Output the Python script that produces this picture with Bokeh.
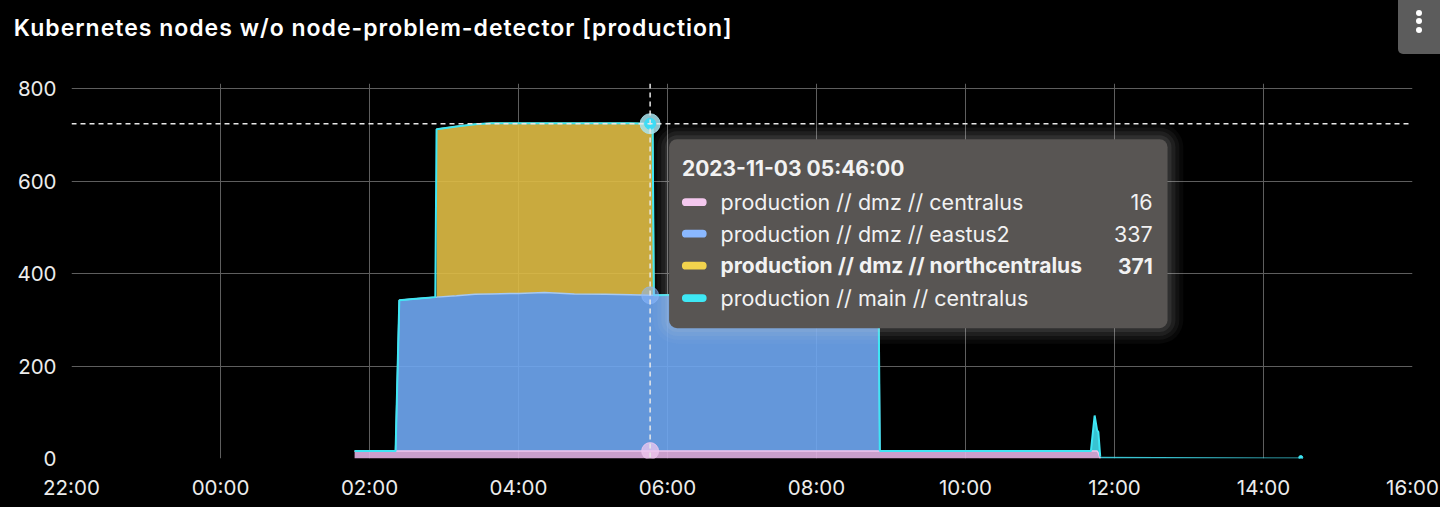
import numpy as np
import pandas as pd
from bokeh.plotting import figure
from bokeh.layouts import column
from bokeh.models import (ColumnDataSource, Span, Label, BoxAnnotation, FixedTicker,
                          DatetimeTickFormatter, Range1d, Div)
from bokeh.embed import file_html
from bokeh.resources import INLINE

# ---------------- data ----------------
title_text = "Kubernetes nodes w/o node-problem-detector [production]"
series_names = ["production // dmz // centralus", "production // dmz // eastus2",
                "production // dmz // northcentralus", "production // main // centralus"]

times = ["2023-11-03 01:48:00", "2023-11-03 02:21:00", "2023-11-03 02:24:00", "2023-11-03 02:35:00",
         "2023-11-03 02:53:00", "2023-11-03 02:54:00", "2023-11-03 03:10:00", "2023-11-03 03:25:00",
         "2023-11-03 03:38:00", "2023-11-03 04:00:00", "2023-11-03 04:21:00", "2023-11-03 04:45:00",
         "2023-11-03 05:10:00", "2023-11-03 05:30:00", "2023-11-03 05:46:00", "2023-11-03 05:48:00",
         "2023-11-03 05:49:00", "2023-11-03 06:20:00", "2023-11-03 07:00:00", "2023-11-03 07:40:00",
         "2023-11-03 08:20:00", "2023-11-03 08:50:00", "2023-11-03 08:51:00", "2023-11-03 09:30:00",
         "2023-11-03 10:15:00", "2023-11-03 11:00:00", "2023-11-03 11:41:00", "2023-11-03 11:44:00",
         "2023-11-03 11:46:00", "2023-11-03 11:47:00", "2023-11-03 11:48:30", "2023-11-03 12:00:00",
         "2023-11-03 14:30:00"]
N = None
dmz_centralus = [16, 16, 16, 16, 16, 16, 16, 16, 16, 16, 16, 16, 16, 16, 16, 16,
                 16, 16, 16, 16, 16, 16, 16, 16, 16, 16, 16, 16, 16, 12, 0, N, N]
dmz_eastus2 = [N, 0, 326, 329, 333, 333, 336, 339, 340, 341, 343, 340, 339, 338, 337, 337,
               337, 338, 339, 338, 338, 338, 0, N, N, N, N, N, N, N, N, N, N]
dmz_northcentralus = [N, N, N, N, N, 363, 366, 368, 369, 368, 366, 369, 370, 371, 371, 371,
                      0, N, N, N, N, N, N, N, N, N, N, N, N, N, N, N, N]
main_centralus = [0, 0, 0, 0, 0, 0, 0, 0, 0, 0, 0, 0, 0, 0, 0, 0,
                  0, 0, 0, 0, 0, 0, 0, 0, 0, 0, 0, 77, 45, 45, 4, N, 2]

x_ticks = ["2023-11-02 22:00:00", "2023-11-03 00:00:00", "2023-11-03 02:00:00", "2023-11-03 04:00:00",
           "2023-11-03 06:00:00", "2023-11-03 08:00:00", "2023-11-03 10:00:00", "2023-11-03 12:00:00",
           "2023-11-03 14:00:00", "2023-11-03 16:00:00"]
y_ticks = [0, 200, 400, 600, 800]
hover_time = "2023-11-03 05:46:00"
tooltip_header = "2023-11-03 05:46:00"

fill_colors = ["#e0b0e2", "#6fa7f2", "#dfbc45", "#3fd8e8"]
line_colors = ["#f0c6ee", "#a6c9f4", "#e6c64e", "#3ee6f4"]
swatch_colors = ["#f4c8ee", "#8ab8ff", "#f2d34d", "#3ee8f5"]


def to_ms(lst):
    return (pd.to_datetime(lst, format="ISO8601").values
            .astype("datetime64[ms]").astype("int64").astype(float))


t = to_ms(times)
xt = to_ms(x_ticks)
t0, t1 = xt[0], xt[-1]
series = [np.array([np.nan if v is None else v for v in s], dtype=float)
          for s in (dmz_centralus, dmz_eastus2, dmz_northcentralus, main_centralus)]

# ---------------- layout geometry ----------------
W, H = 1440, 507
HH = 60                       # header height
MH = H - HH                   # main figure height
ML, MR, MT, MB = 71, 28, 23, 49
YMAX = 811
SX, SY = W / 1456, H / 523     # reference picture -> page scale
FONT = "Inter"
BLACK = {"background-color": "#000000"}


def fx(X):
    return X * SX


def fy(Y):
    return Y * SY


# ---------------- header (title + menu button) ----------------
dots = "".join(
    f'<div style="position:absolute;left:{fx(1434.3) - fx(1413) - 3:.1f}px;top:{fy(d) - 3:.1f}px;'
    f'width:6px;height:6px;border-radius:3px;background:#ffffff;"></div>'
    for d in (20, 28.3, 36.7))
header_html = (
    f'<div style="position:relative;width:{W}px;height:{HH + 2}px;background:#000;overflow:hidden;">'
    f'<div style="position:absolute;left:{fx(14):.1f}px;top:{fy(29) - 14:.1f}px;'
    f'font-family:Inter;font-size:23px;font-weight:600;letter-spacing:1.0px;'
    f'line-height:28px;color:#ffffff;white-space:nowrap;">{title_text}</div>'
    f'<div style="position:absolute;left:{fx(1413):.1f}px;top:-6px;width:60px;'
    f'height:{fy(56) + 6:.1f}px;background:#5c5c5c;border-radius:5px;">{dots}</div>'
    f'</div>')
hdr = Div(text=header_html, width=W, height=HH, margin=0, styles=BLACK)

# ---------------- main figure ----------------
p = figure(width=W, height=MH, x_axis_type="datetime", output_backend="svg",
           toolbar_location=None, x_range=Range1d(t0, t1), y_range=Range1d(0, YMAX),
           background_fill_color="black", border_fill_color="black",
           outline_line_color=None, min_border_left=ML, min_border_right=MR,
           min_border_top=MT, min_border_bottom=MB, margin=0, styles=BLACK)

FL, FR = ML, W - MR
FT, FB = MT, MH - MB


def xd(X):
    return t0 + (fx(X) - FL) / (FR - FL) * (t1 - t0)


def yd(Y):
    return (FB - (fy(Y) - HH)) / (FB - FT) * YMAX


for ax in (p.xaxis[0], p.yaxis[0]):
    ax.axis_line_color = None
    ax.major_tick_line_color = None
    ax.minor_tick_line_color = None
    ax.major_label_text_color = "#ececec"
    ax.major_label_text_font = FONT
    ax.major_label_text_font_size = "20.5px"
p.xaxis.ticker = FixedTicker(ticks=list(xt))
fmt = "%H:%M"
p.xaxis.formatter = DatetimeTickFormatter(hours=fmt, hourmin=fmt, days=fmt, minutes=fmt,
                                          minsec=fmt, months=fmt, context=None)
p.xaxis.major_label_standoff = 10
p.yaxis.ticker = FixedTicker(ticks=y_ticks)
p.yaxis.major_label_standoff = 9
p.xgrid.grid_line_color = "#5e5e5e"
p.ygrid.grid_line_color = "#5e5e5e"
p.xgrid.grid_line_width = 1
p.ygrid.grid_line_width = 1

# ---------------- stacked areas ----------------
cum = np.zeros_like(t)
tops = []
for i, s in enumerate(series):
    lower = cum.copy()
    upper = lower + s
    lo = np.where(np.isnan(s), np.nan, lower)
    src = ColumnDataSource(dict(x=t, lo=lo, hi=upper))
    p.varea(x="x", y1="lo", y2="hi", source=src, fill_color=fill_colors[i], fill_alpha=0.9)
    tops.append(upper)
    cum = lower + np.nan_to_num(s)

for i, top in enumerate(tops):
    w = 2 if i == 3 else 1.5
    p.line(t, top, line_color=line_colors[i], line_width=w)
    iso = [k for k in range(len(t)) if not np.isnan(top[k])
           and (k == 0 or np.isnan(top[k - 1])) and (k == len(t) - 1 or np.isnan(top[k + 1]))]
    if iso:
        p.scatter(t[iso], top[iso], size=4, color=line_colors[i])

# ---------------- crosshair & hover points ----------------
hx = to_ms([hover_time])[0]
hk = int(np.argmin(np.abs(t - hx)))
p.add_layout(Span(location=hx, dimension="height", line_color="#e8e8e8", line_width=1.5,
                  line_dash="5 4"))
p.add_layout(Span(location=tops[3][hk], dimension="width", line_color="#e8e8e8",
                  line_width=1.5, line_dash="5 4"))
p.scatter([hx], [tops[0][hk]], size=17, color="#f0c8f0", alpha=0.75)
p.scatter([hx], [tops[1][hk]], size=17, color="#8ab8ff", alpha=0.55)
p.scatter([hx], [tops[3][hk]], size=20, color="#a8e4ef", alpha=0.85)
p.scatter([hx], [tops[3][hk]], size=11, color="#3edcf5")

# ---------------- tooltip ----------------
TL, TR, TT, TB = 676, 1180, 143, 338
for k, a in ((16, 0.035), (12, 0.05), (8, 0.07), (4, 0.09)):
    p.add_layout(BoxAnnotation(left=xd(TL - k), right=xd(TR + k), top=yd(TT - k),
                               bottom=yd(TB + k), fill_color="#d8d8d8", fill_alpha=a,
                               line_color=None, border_radius=8 + k, level="overlay"))
p.add_layout(BoxAnnotation(left=xd(TL), right=xd(TR), top=yd(TT), bottom=yd(TB),
                           fill_color="#585553", fill_alpha=1, line_color=None,
                           border_radius=8, level="overlay"))
p.add_layout(Label(x=xd(689), y=yd(173), text=tooltip_header, text_color="#f2f2f2",
                   text_font=FONT, text_font_size="21px", text_font_style="bold",
                   text_baseline="middle", level="overlay"))
row_y = [208, 240.5, 273.5, 307]
vals = [s[hk] for s in series]
for i, name in enumerate(series_names):
    ry = row_y[i]
    p.add_layout(BoxAnnotation(left=xd(689), right=xd(714), top=yd(ry - 4), bottom=yd(ry + 4),
                               fill_color=swatch_colors[i], fill_alpha=1, line_color=None,
                               border_radius=4, level="overlay"))
    style = "bold" if i == 2 else "normal"
    size = "21px" if i == 2 else "21.5px"
    p.add_layout(Label(x=xd(728), y=yd(ry), text=name, text_color="#f2f2f2",
                       text_font=FONT, text_font_size=size, text_font_style=style,
                       text_baseline="middle", level="overlay"))
    v = vals[i]
    if not np.isnan(v) and v > 0:
        p.add_layout(Label(x=xd(1165), y=yd(ry), text=f"{int(v)}", text_color="#f2f2f2",
                           text_font=FONT, text_font_size=size, text_font_style=style,
                           text_baseline="middle", text_align="right", level="overlay"))

layout = column(hdr, p, spacing=0, styles=BLACK)
open("out.html", "w").write(file_html(layout, INLINE))
